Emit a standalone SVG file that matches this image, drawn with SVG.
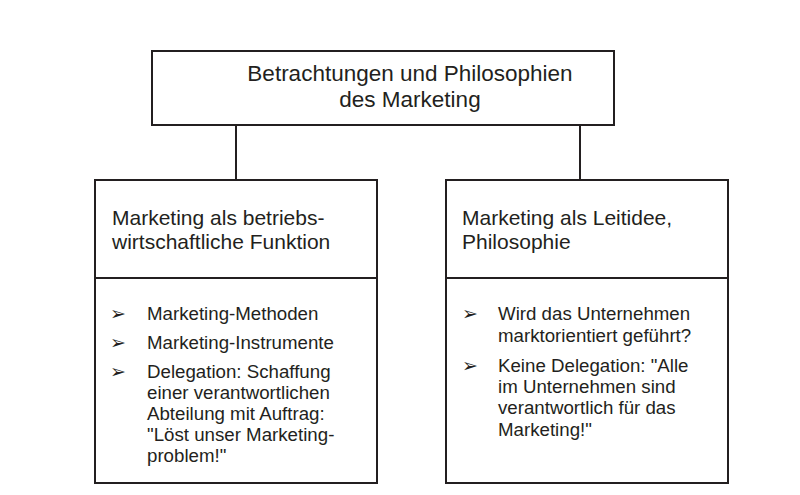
<svg xmlns="http://www.w3.org/2000/svg" width="800" height="495" viewBox="0 0 800 495">
<style>
.b{fill:#fff;stroke:#231f20;stroke-width:2}
.l{stroke:#231f20;stroke-width:2;fill:none}
text{font-family:"Liberation Sans",Arial,sans-serif;fill:#231f20}
.t{font-size:22.5px}
.h{font-size:21px}
.i{font-size:18.7px}
</style>
<rect width="800" height="495" fill="#fff"/>
<g id="connectors">
<line class="l" x1="236" y1="125" x2="236" y2="180"/>
<line class="l" x1="580" y1="125" x2="580" y2="180"/>
</g>
<g id="top">
<rect class="b" x="152" y="51" width="462" height="74"/>
<text class="t" x="410" y="81" text-anchor="middle">Betrachtungen und Philosophien</text>
<text class="t" x="410" y="107" text-anchor="middle">des Marketing</text>
</g>
<g id="left">
<rect class="b" x="95" y="180" width="282" height="303"/>
<line class="l" x1="95" y1="278" x2="377" y2="278"/>
<text class="h" x="112" y="225">Marketing als betriebs-</text>
<text class="h" x="112" y="249">wirtschaftliche Funktion</text>
<g class="i">
<text x="110" y="320">➢</text><text x="147" y="320">Marketing-Methoden</text>
<text x="110" y="349">➢</text><text x="147" y="349">Marketing-Instrumente</text>
<text x="110" y="378">➢</text><text x="147" y="378">Delegation: Schaffung</text>
<text x="147" y="399">einer verantwortlichen</text>
<text x="147" y="420">Abteilung mit Auftrag:</text>
<text x="147" y="441">"Löst unser Marketing-</text>
<text x="147" y="462">problem!"</text>
</g>
</g>
<g id="right">
<rect class="b" x="446" y="180" width="282" height="303"/>
<line class="l" x1="446" y1="278" x2="728" y2="278"/>
<text class="h" x="462" y="225">Marketing als Leitidee,</text>
<text class="h" x="462" y="249">Philosophie</text>
<g class="i">
<text x="462" y="320">➢</text><text x="498" y="320">Wird das Unternehmen</text>
<text x="498" y="342">marktorientiert geführt?</text>
<text x="462" y="372">➢</text><text x="498" y="372">Keine Delegation: "Alle</text>
<text x="498" y="393">im Unternehmen sind</text>
<text x="498" y="414">verantwortlich für das</text>
<text x="498" y="436">Marketing!"</text>
</g>
</g>
</svg>
